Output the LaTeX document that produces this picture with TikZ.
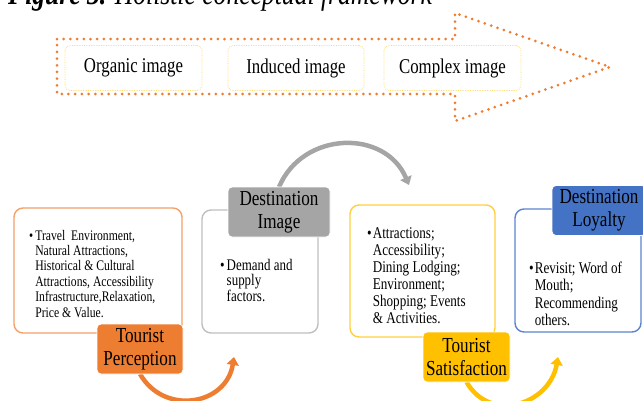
\documentclass[tikz,border=0pt]{standalone}
\usepackage{fontspec}
\setmainfont[FakeStretch=0.8]{Liberation Serif}
\usetikzlibrary{arrows.meta}
\definecolor{cOrange}{HTML}{ED7D31}
\definecolor{cOrangeLine}{HTML}{F4A06A}
\definecolor{cGray}{HTML}{A5A5A5}
\definecolor{cGrayLine}{HTML}{BFBFBF}
\definecolor{cGold}{HTML}{FFC000}
\definecolor{cGoldLine}{HTML}{FFCF40}
\definecolor{cBlue}{HTML}{4472C4}
\definecolor{cBlueLine}{HTML}{5B84D0}
\definecolor{cPale}{HTML}{FFD966}
\tikzset{
  imgbox/.style={draw=cPale, densely dotted, line width=0.7pt, rounded corners=5pt,
    minimum height=45pt, font=\fontsize{21}{24}\selectfont},
  infobox/.style={rounded corners=9pt, line width=1.4pt, fill=white},
  infotext/.style={anchor=base west, inner sep=0pt},
  tag/.style={rounded corners=4pt, draw=white, line width=0.8pt, align=center,
    inner sep=0pt, minimum height=50pt, font=\fontsize{21.4}{23}\selectfont},
  flow/.style={line width=4.5pt, -{Triangle[width=12pt,length=8pt]}},
}
\begin{document}
\begin{tikzpicture}[x=1pt,y=1pt]
\useasboundingbox (0,0) rectangle (643,-400);
\node[anchor=base west, inner sep=0pt] (cap) at (8,-4.5)
  {\fontsize{32}{34}\selectfont\textbf{\textit{Figure 3.}} \textit{Holistic conceptual framework}};
% dotted arrow
\draw[cOrange, line width=3pt, line cap=round, dash pattern=on 0pt off 6.7pt]
  (57,-39) -- (455,-39) -- (455,-13) -- (610,-67) -- (455,-121) -- (455,-94) -- (57,-94) -- cycle;
\node[imgbox, minimum width=137pt] (oi) at (133.5,-68) {Organic image};
\node[imgbox, minimum width=136pt] (ii) at (296,-68) {Induced image};
\node[imgbox, minimum width=137pt] (ci) at (452.5,-68) {Complex image};

% boxes
\node[infobox, draw=cOrangeLine, minimum width=168pt, minimum height=125pt] (tpbox) at (98,-270.5) {};
\node[infobox, draw=cGrayLine, minimum width=116pt, minimum height=123pt] (dibox) at (260,-271.5) {};
\node[infobox, draw=cGoldLine, minimum width=145pt, minimum height=132pt] (tsbox) at (422.5,-271) {};
\node[infobox, draw=cBlueLine, minimum width=126pt, minimum height=123pt] (dlbox) at (578,-270.5) {};

\node[infotext] (tptext) at (29,-240) {\fontsize{14.6}{15.4}\selectfont
  \begin{tabular}[t]{@{}l@{\hspace{2pt}}l@{}}
  \textbullet & Travel\ \ Environment,\\
  & Natural Attractions,\\
  & Historical \& Cultural\\
  & Attractions, Accessibility\\
  & Infrastructure,Relaxation,\\
  & Price \& Value.
  \end{tabular}};
\node[infotext] (ditext) at (220,-270) {\fontsize{16.2}{15}\selectfont
  \begin{tabular}[t]{@{}l@{\hspace{2pt}}l@{}}
  \textbullet & Demand and\\
  & supply\\
  & factors.
  \end{tabular}};
\node[infotext] (tstext) at (367,-238) {\fontsize{16.4}{17}\selectfont
  \begin{tabular}[t]{@{}l@{\hspace{1pt}}l@{}}
  \textbullet & Attractions;\\
  & Accessibility;\\
  & Dining Lodging;\\
  & Environment;\\
  & Shopping; Events\\
  & \& Activities.
  \end{tabular}};
\node[infotext] (dltext) at (529,-273) {\fontsize{16.4}{17.5}\selectfont
  \begin{tabular}[t]{@{}l@{\hspace{1pt}}l@{}}
  \textbullet & Revisit; Word of\\
  & Mouth;\\
  & Recommending\\
  & others.
  \end{tabular}};

% curved arrows
\coordinate (diend) at (409,-185);
\coordinate (tpend) at (234,-357);
\coordinate (tsend) at (558,-357);
\draw[flow, cGray] (279,-187) to[out=67, in=113, looseness=1.2] (diend);
\draw[flow, cOrange] (140,-374) to[out=-60, in=-99, looseness=1.3] (tpend);
\draw[flow, cGold] (466.5,-382) to[out=-60, in=-100, looseness=1.3] (tsend);

% tags
\node[tag, fill=cOrange, minimum width=86pt] (tp) at (140,-349) {Tourist\\Perception};
\node[tag, fill=cGray, minimum width=102pt] (di) at (279,-212) {Destination\\Image};
\node[tag, fill=cGold, minimum width=87pt] (ts) at (466.5,-357) {Tourist\\Satisfaction};
\node[tag, fill=cBlue, minimum width=94pt] (dl) at (599,-210.5) {Destination\\Loyalty};
\end{tikzpicture}
\end{document}
